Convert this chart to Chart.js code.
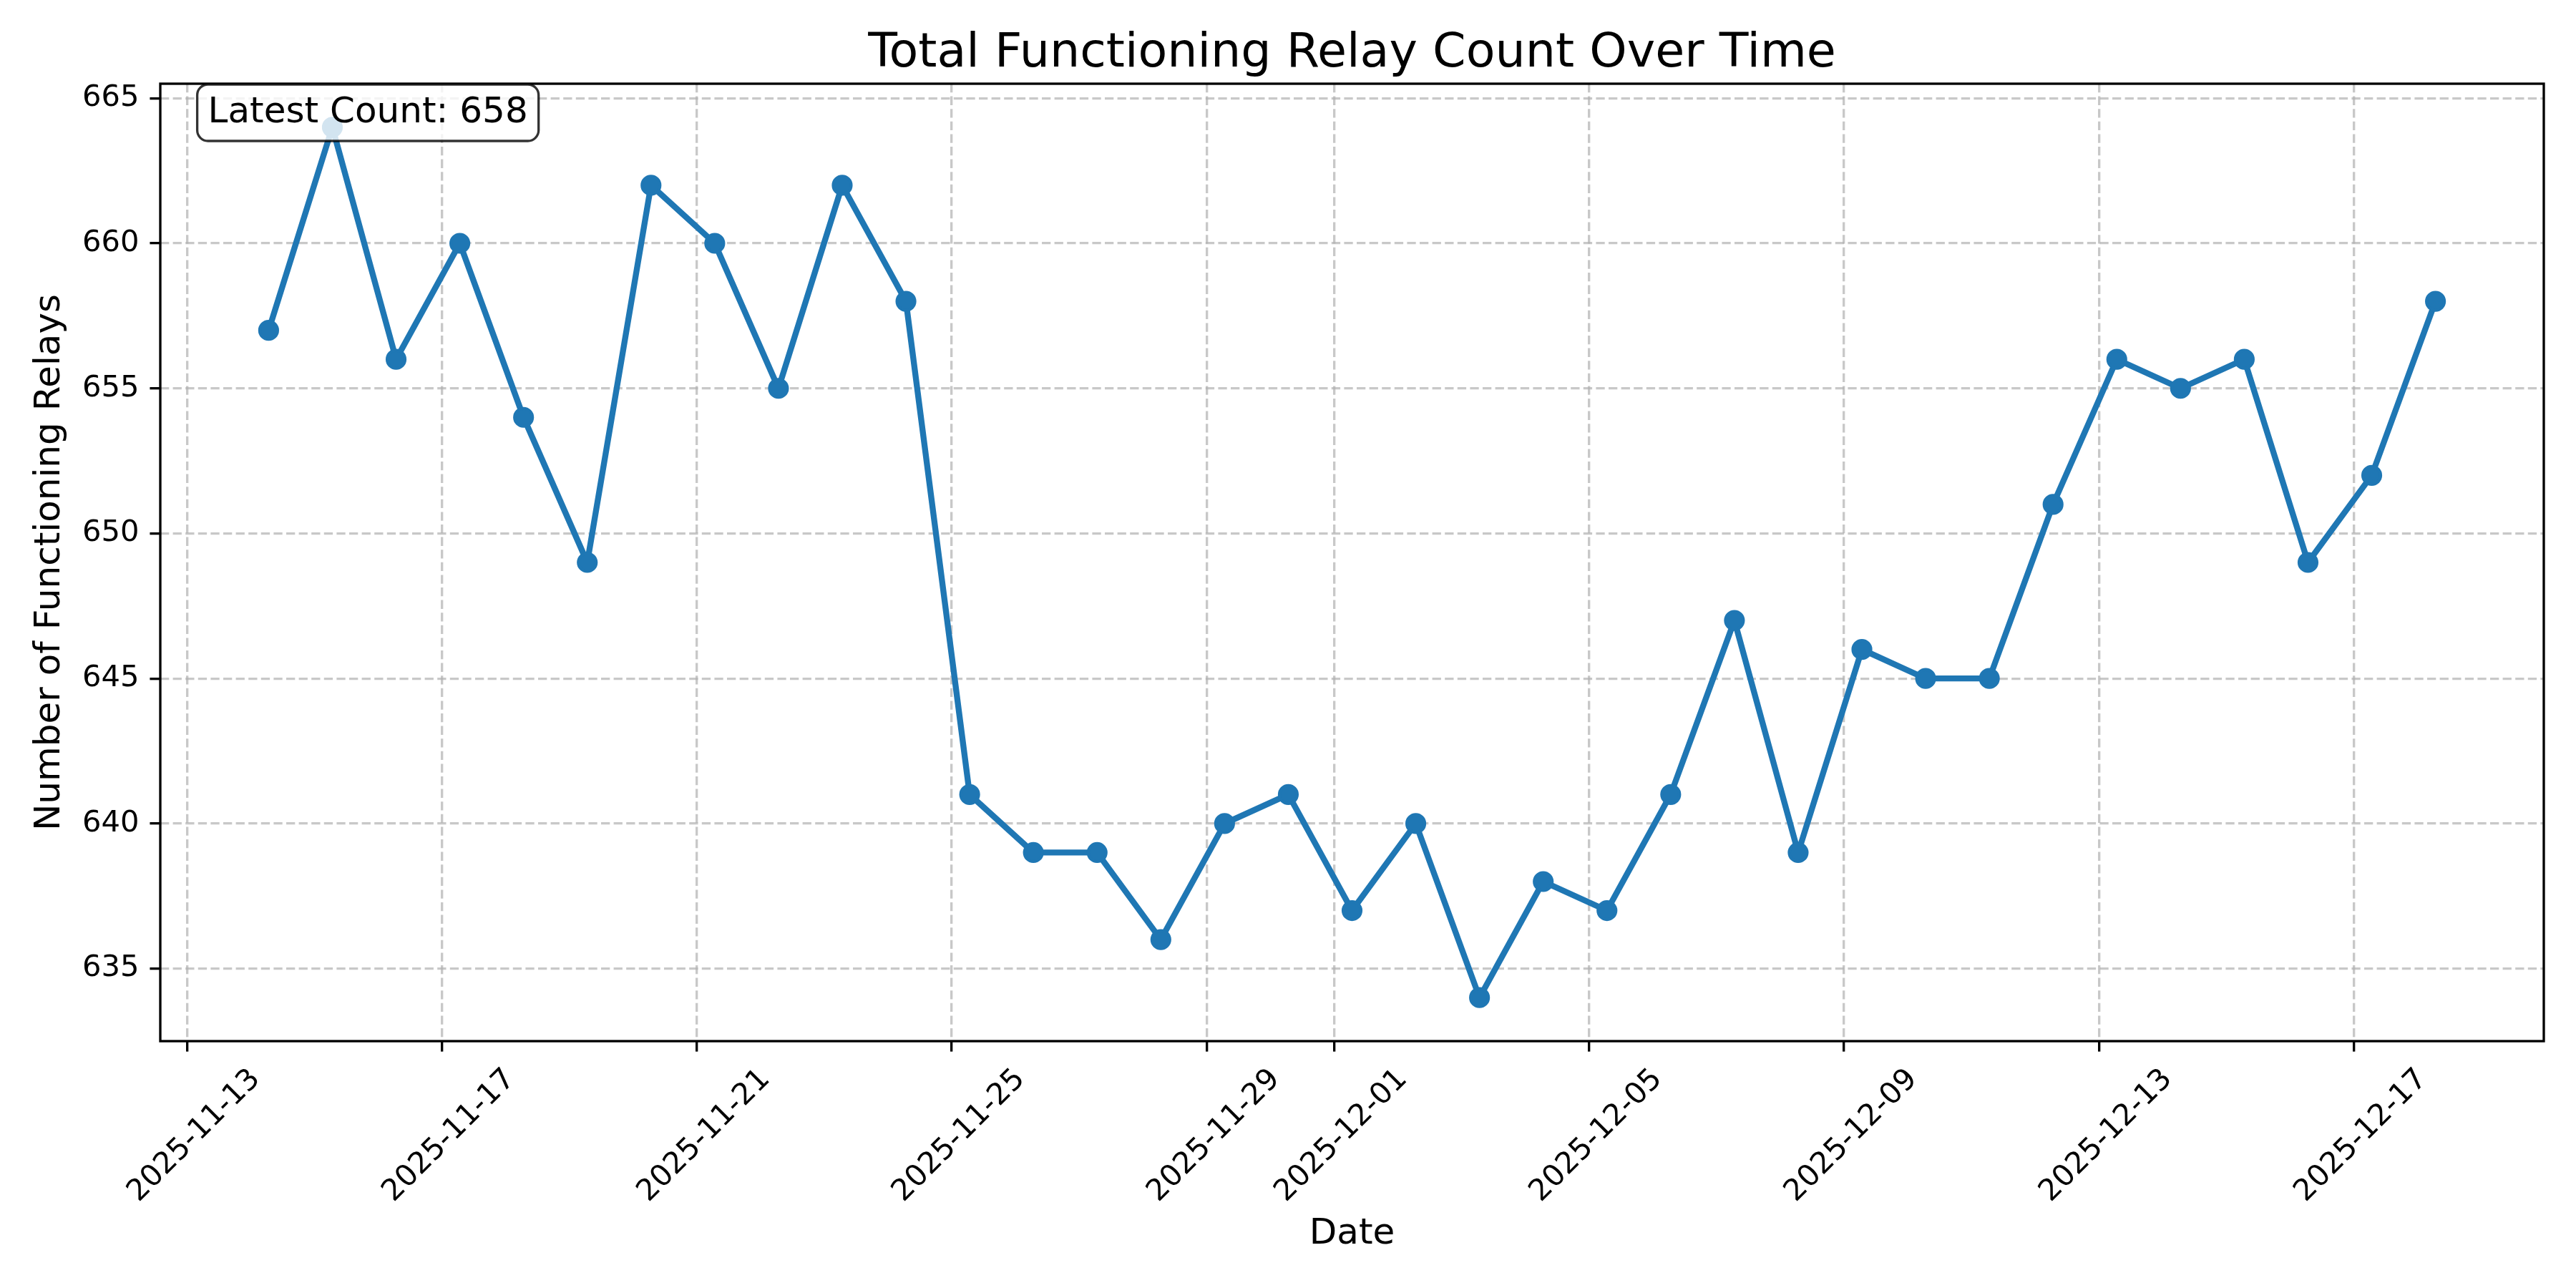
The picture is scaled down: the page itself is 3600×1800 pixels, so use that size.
<!DOCTYPE html>
<html>
<head>
<meta charset="utf-8">
<title>Total Functioning Relay Count Over Time</title>
<script src="https://cdn.jsdelivr.net/npm/chart.js@4.4.1/dist/chart.umd.min.js"></script>
<style>
  html, body { margin: 0; padding: 0; background: #ffffff; }
  canvas { display: block; }
</style>
</head>
<body>
<canvas id="relay-chart" width="3600" height="1800"></canvas>
<script>
// Daily samples (all taken at the same time of day, UTC)
const sampleDates = [
  "2025-11-14", "2025-11-15", "2025-11-16", "2025-11-17", "2025-11-18",
  "2025-11-19", "2025-11-20", "2025-11-21", "2025-11-22", "2025-11-23",
  "2025-11-24", "2025-11-25", "2025-11-26", "2025-11-27", "2025-11-28",
  "2025-11-29", "2025-11-30", "2025-12-01", "2025-12-02", "2025-12-03",
  "2025-12-04", "2025-12-05", "2025-12-06", "2025-12-07", "2025-12-08",
  "2025-12-09", "2025-12-10", "2025-12-11", "2025-12-12", "2025-12-13",
  "2025-12-14", "2025-12-15", "2025-12-16", "2025-12-17", "2025-12-18",
];
const sampleTime = "06:45:00";

const relayCounts = [
  657, 664, 656, 660, 654, 649, 662, 660, 655, 662,
  658, 641, 639, 639, 636, 640, 641, 637, 640, 634,
  638, 637, 641, 647, 639, 646, 645, 645, 651, 656,
  655, 656, 649, 652, 658,
];

// Tick labels
const dateTicks = [
  "2025-11-13", "2025-11-17", "2025-11-21", "2025-11-25", "2025-11-29",
  "2025-12-01", "2025-12-05", "2025-12-09", "2025-12-13", "2025-12-17",
];
const countTicks = [635, 640, 645, 650, 655, 660, 665];

// Helpers
const toMs = (d, t = "00:00:00") => Date.parse(`${d}T${t}Z`);
const fmtDate = (ms) => new Date(ms).toISOString().slice(0, 10);

const points = sampleDates.map((d, i) => ({ x: toMs(d, sampleTime), y: relayCounts[i] }));

// 5% margins like matplotlib autoscale
const xFirst = points[0].x;
const xLast = points[points.length - 1].x;
const xPad = (xLast - xFirst) * 0.05;
const yLow = Math.min(...relayCounts);
const yHigh = Math.max(...relayCounts);
const yPad = (yHigh - yLow) * 0.05;

const FONT = "'DejaVu Sans', 'Liberation Sans', sans-serif";
const LINE_COLOR = "#1f77b4";
const PT = 300 / 72; // px per point

// Title, frame and "latest count" box
const overlayPlugin = {
  id: "overlay",
  afterDatasetsDraw(chart) {
    const { ctx, chartArea: a } = chart;
    ctx.save();

    // Frame (spines)
    ctx.strokeStyle = "#000000";
    ctx.lineWidth = 0.8 * PT;
    ctx.strokeRect(a.left, a.top, a.right - a.left, a.bottom - a.top);

    // Title
    ctx.fillStyle = "#000000";
    ctx.font = `${16 * PT}px ${FONT}`;
    ctx.textAlign = "center";
    ctx.textBaseline = "alphabetic";
    ctx.fillText("Total Functioning Relay Count Over Time", (a.left + a.right) / 2, a.top - 24);

    // Latest count box
    const label = `Latest Count: ${relayCounts[relayCounts.length - 1]}`;
    ctx.font = `${12 * PT}px ${FONT}`;
    const pad = 0.3 * 12 * PT;
    const textX = a.left + 0.02 * (a.right - a.left);
    const textW = ctx.measureText(label).width;
    const bx = textX - pad;
    const by = a.top + 1;
    const bw = textW + 2 * pad;
    const bh = 79;
    ctx.beginPath();
    ctx.roundRect(bx, by, bw, bh, pad);
    ctx.fillStyle = "rgba(255, 255, 255, 0.8)";
    ctx.fill();
    ctx.strokeStyle = "rgba(0, 0, 0, 0.8)";
    ctx.lineWidth = 1 * PT * 0.8;
    ctx.stroke();
    ctx.fillStyle = "#000000";
    ctx.textAlign = "left";
    ctx.fillText(label, textX, a.top + 54);

    ctx.restore();
  },
};

new Chart(document.getElementById("relay-chart"), {
  type: "line",
  data: {
    datasets: [
      {
        label: "Functioning Relays",
        data: points,
        borderColor: LINE_COLOR,
        backgroundColor: LINE_COLOR,
        borderWidth: 2 * PT,
        borderJoinStyle: "round",
        pointRadius: 3 * PT,
        pointBorderWidth: 1 * PT,
        pointBackgroundColor: LINE_COLOR,
        pointBorderColor: LINE_COLOR,
        tension: 0,
        fill: false,
      },
    ],
  },
  options: {
    responsive: false,
    devicePixelRatio: 1,
    animation: false,
    layout: { padding: { left: 0, top: 117, right: 45, bottom: 0 } },
    plugins: {
      legend: { display: false },
      title: { display: false },
      tooltip: { enabled: false },
    },
    scales: {
      x: {
        type: "linear",
        min: xFirst - xPad,
        max: xLast + xPad,
        afterBuildTicks: (scale) => {
          scale.ticks = dateTicks.map((d) => ({ value: toMs(d) }));
        },
        afterFit: (scale) => {
          scale.height = 345;
        },
        ticks: {
          autoSkip: false,
          minRotation: 45,
          maxRotation: 45,
          padding: 14.6,
          labelOffset: 96,
          color: "#000000",
          font: { family: FONT, size: 10 * PT },
          callback: (value) => fmtDate(value),
        },
        grid: {
          color: "rgba(176, 176, 176, 0.7)",
          lineWidth: 0.8 * PT,
          tickColor: "#000000",
          tickWidth: 0.8 * PT,
          tickLength: 3.5 * PT,
        },
        border: { display: false, dash: [12.3, 5.3] },
        title: {
          display: true,
          text: "Date",
          color: "#000000",
          font: { family: FONT, size: 12 * PT },
          padding: { top: 0, bottom: 45 },
        },
      },
      y: {
        type: "linear",
        min: yLow - yPad,
        max: yHigh + yPad,
        afterBuildTicks: (scale) => {
          scale.ticks = countTicks.map((v) => ({ value: v }));
        },
        afterFit: (scale) => {
          scale.width = 224;
        },
        ticks: {
          padding: 15,
          color: "#000000",
          font: { family: FONT, size: 10 * PT },
          callback: (value) => String(value),
        },
        grid: {
          color: "rgba(176, 176, 176, 0.7)",
          lineWidth: 0.8 * PT,
          tickColor: "#000000",
          tickWidth: 0.8 * PT,
          tickLength: 3.5 * PT,
        },
        border: { display: false, dash: [12.3, 5.3] },
        title: {
          display: true,
          text: "Number of Functioning Relays",
          color: "#000000",
          font: { family: FONT, size: 12 * PT },
          padding: { top: 40, bottom: 0 },
        },
      },
    },
  },
  plugins: [overlayPlugin],
});
</script>
</body>
</html>
